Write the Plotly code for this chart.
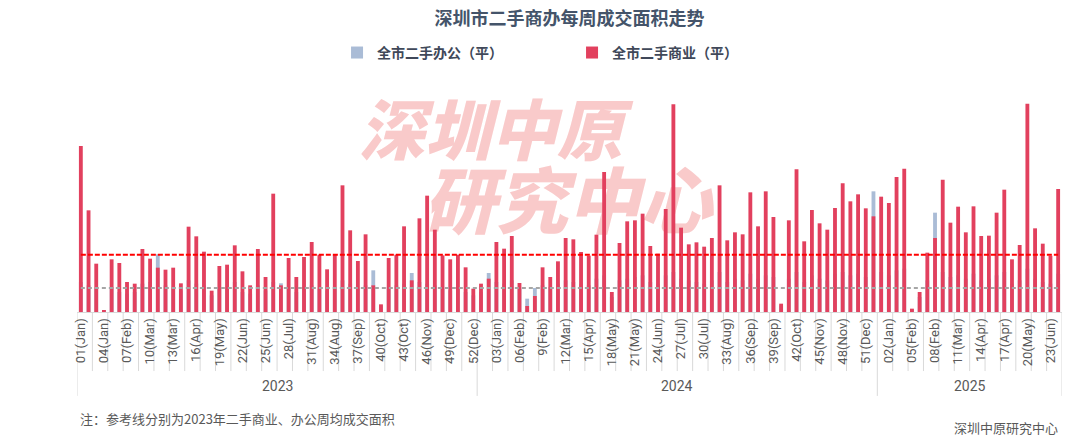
import plotly.graph_objects as go

# ---------------- data ----------------
years = [2023] * 52 + [2024] * 52 + [2025] * 24
weeks = list(range(1, 53)) + list(range(1, 53)) + list(range(1, 25))

commercial = [
    49800, 30500, 14500, 500, 15800, 14700, 9000, 8500, 18900, 16000,
    13300, 12700, 13300, 8600, 25600, 22700, 18100, 6400, 13800, 14200,
    20000, 12200, 8000, 18900, 10500, 35500, 8000, 16200, 10500, 16500,
    21000, 17200, 12800, 17200, 38000, 24500, 15300, 23300, 8000, 2300,
    16200, 17200, 25700, 9500, 28100, 34900, 24700, 17000, 15800, 17200,
    13400, 7000,
    8500, 10000, 21000, 19000, 22800, 8700, 1800, 4800, 13400, 10500,
    15200, 22200, 21800, 18000, 16900, 23200, 42000, 6000, 20700, 27200,
    27500, 29500, 19800, 17500, 30900, 62300, 25300, 20300, 20900, 19600,
    22200, 38000, 21500, 23900, 23300, 35900, 25700, 36200, 28500, 2500,
    27500, 42800, 21200, 30600, 26600, 24700, 31200, 38600, 33200, 35300,
    31100, 28700,
    34600, 32700, 40500, 43000, 1000, 6000, 17800, 22200, 39700, 26800,
    31600, 23900, 31700, 22800, 22900, 29800, 36700, 15800, 20100, 62500,
    25100, 20500, 16900, 36900,
]

office = [
    9000, 8000, 7000, 400, 7500, 6000, 5500, 6000, 8500, 9000,
    17300, 8000, 7000, 6500, 9500, 8500, 8000, 5000, 7500, 7000,
    9000, 6000, 5500, 8000, 6500, 9000, 8600, 7000, 6000, 7500,
    8000, 7000, 6500, 7500, 9500, 8500, 7000, 8000, 12500, 2000,
    7500, 8000, 8500, 11700, 9000, 8500, 8000, 7000, 6500, 7000,
    6000, 5000,
    6000, 11700, 9000, 8500, 9500, 7000, 4000, 7200, 8000, 7500,
    8500, 9500, 9000, 8500, 8000, 10000, 11000, 4500, 9500, 10000,
    10500, 11000, 9000, 8500, 11000, 12000, 10000, 9500, 9000, 8500,
    9500, 12000, 9000, 10000, 9500, 11500, 10000, 11000, 10500, 2000,
    10000, 12000, 9000, 11000, 10000, 9500, 11500, 12000, 11000, 11500,
    10500, 36200,
    12000, 11000, 12500, 13000, 800, 4500, 9500, 29800, 12000, 10500,
    11000, 10000, 11500, 9500, 10000, 11000, 12000, 8500, 9500, 13000,
    10000, 9000, 8500, 11500,
]

# 2023 weekly averages (reference lines)
ref_commercial_2023 = 17200
ref_office_2023 = 7200

tick_keys = [
    (2023, 1), (2023, 4), (2023, 7), (2023, 10), (2023, 13), (2023, 16),
    (2023, 19), (2023, 22), (2023, 25), (2023, 28), (2023, 31), (2023, 34),
    (2023, 37), (2023, 40), (2023, 43), (2023, 46), (2023, 49), (2023, 52),
    (2024, 3), (2024, 6), (2024, 9), (2024, 12), (2024, 15), (2024, 18),
    (2024, 21), (2024, 24), (2024, 27), (2024, 30), (2024, 33), (2024, 36),
    (2024, 39), (2024, 42), (2024, 45), (2024, 48), (2024, 51),
    (2025, 2), (2025, 5), (2025, 8), (2025, 11), (2025, 14), (2025, 17),
    (2025, 20), (2025, 23),
]
tick_labels = [
    "01(Jan)", "04(Jan)", "07(Feb)", "10(Mar)", "13(Mar)", "16(Apr)",
    "19(May)", "22(Jun)", "25(Jun)", "28(Jul)", "31(Aug)", "34(Aug)",
    "37(Sep)", "40(Oct)", "43(Oct)", "46(Nov)", "49(Dec)", "52(Dec)",
    "03(Jan)", "06(Feb)", "9(Feb)", "12(Mar)", "15(Apr)", "18(May)",
    "21(May)", "24(Jun)", "27(Jul)", "30(Jul)", "33(Aug)", "36(Sep)",
    "39(Sep)", "42(Oct)", "45(Nov)", "48(Nov)", "51(Dec)",
    "02(Jan)", "05(Feb)", "08(Feb)", "11(Mar)", "14(Apr)", "17(Apr)",
    "20(May)", "23(Jun)",
]
year_labels = ["2023", "2024", "2025"]

# ---------------- figure ----------------
cats = [f"{y}-W{w:02d}" for y, w in zip(years, weeks)]
tick_vals = [f"{y}-W{w:02d}" for y, w in tick_keys]

RED = "#E2405E"
BLUE = "#AABCD6"
TXT = "#595959"
CJK = "Noto Sans CJK SC"

fig = go.Figure()
fig.add_trace(go.Bar(x=cats, y=office, name="全市二手办公（平）",
                     marker=dict(color=BLUE, line=dict(width=0)), width=0.5))
fig.add_trace(go.Bar(x=cats, y=commercial, name="全市二手商业（平）",
                     marker=dict(color=RED, line=dict(width=0)), width=0.5))
fig.add_trace(go.Scatter(x=cats, y=[ref_office_2023] * len(cats), mode="lines",
                         line=dict(color="#A6A6A6", width=2, dash="4px,3px"),
                         showlegend=False, hoverinfo="skip"))
fig.add_trace(go.Scatter(x=cats, y=[ref_commercial_2023] * len(cats), mode="lines",
                         line=dict(color="#FF0000", width=2, dash="5px,2px"),
                         showlegend=False, hoverinfo="skip"))

n = len(cats)
shapes = []
# category separators (every two weeks) in the label band
year_bounds = [-0.5]
for i in range(1, n):
    if years[i] != years[i - 1]:
        year_bounds.append(i - 0.5)
year_bounds.append(n - 0.5)
for k in range(0, n + 1, 2):
    xv = k - 0.5
    long = xv in year_bounds
    shapes.append(dict(type="line", xref="x", yref="paper", x0=xv, x1=xv,
                       y0=0, y1=-0.378 if long else -0.266,
                       line=dict(color="#D9D9D9", width=1), layer="below"))

# watermark (behind the bars)
shapes.append(dict(type="rect", xref="paper", yref="paper",
                   x0=0.38, x1=0.46, y0=0.76, y1=0.82,
                   line=dict(width=0), fillcolor="rgba(0,0,0,0)", layer="below",
                   label=dict(text="深圳中原", textposition="middle center",
                              font=dict(family=CJK, size=66, color="#F9CACA",
                                        weight=900, style="italic"))))
shapes.append(dict(type="rect", xref="paper", yref="paper",
                   x0=0.458, x1=0.538, y0=0.43, y1=0.50,
                   line=dict(width=0), fillcolor="rgba(0,0,0,0)", layer="below",
                   label=dict(text="研究中心", textposition="middle center",
                              font=dict(family=CJK, size=72, color="#F9CACA",
                                        weight=900, style="italic"))))

annotations = []
for yl in year_labels:
    idx = [i for i, y in enumerate(years) if str(y) == yl]
    annotations.append(dict(x=(idx[0] + idx[-1]) / 2, y=-0.333, xref="x", yref="paper",
                            text=yl, showarrow=False, yanchor="middle",
                            font=dict(family="Roboto", size=14, color=TXT)))
annotations.append(dict(x=0.001, y=-0.478, xref="paper", yref="paper", xanchor="left",
                        yanchor="middle", showarrow=False,
                        text="注：参考线分别为2023年二手商业、办公周均成交面积",
                        font=dict(family=CJK, size=13, color=TXT)))
annotations.append(dict(x=0.9975, y=-0.522, xref="paper", yref="paper", xanchor="right",
                        yanchor="middle", showarrow=False, text="深圳中原研究中心",
                        font=dict(family=CJK, size=13, color=TXT)))

fig.update_layout(
    width=1080, height=440, autosize=False,
    margin=dict(l=77, r=18, t=90, b=128, autoexpand=False),
    paper_bgcolor="white", plot_bgcolor="white",
    barmode="overlay",
    title=dict(text="<b>深圳市二手商办每周成交面积走势</b>", x=0.5, xref="paper",
               xanchor="center", y=0.958, yref="container", yanchor="middle",
               font=dict(family=CJK, size=18, color="#44546A")),
    legend=dict(orientation="h", x=0.264, y=1.167, xanchor="left", yanchor="middle",
                font=dict(family=CJK, size=14, color="#404859", weight="bold"),
                entrywidth=190, entrywidthmode="pixels", itemclick=False,
                bgcolor="rgba(0,0,0,0)", tracegroupgap=0),
    xaxis=dict(type="category", range=[-0.5, n - 0.5], tickmode="array",
               tickvals=tick_vals, ticktext=tick_labels, tickangle=-90,
               ticks="", showgrid=False, showline=True, linecolor="#D9D9D9",
               linewidth=1, tickfont=dict(family="Roboto", size=13, color=TXT),
               automargin=False, fixedrange=True),
    yaxis=dict(range=[0, 66600], visible=False, showgrid=False, zeroline=False,
               automargin=False, fixedrange=True),
    shapes=shapes,
    annotations=annotations,
    hovermode="x",
)

fig.write_html("out.html",
               config={"displayModeBar": False},
               post_script="document.body.style.margin='0';"
                           "document.body.style.overflow='hidden';")
